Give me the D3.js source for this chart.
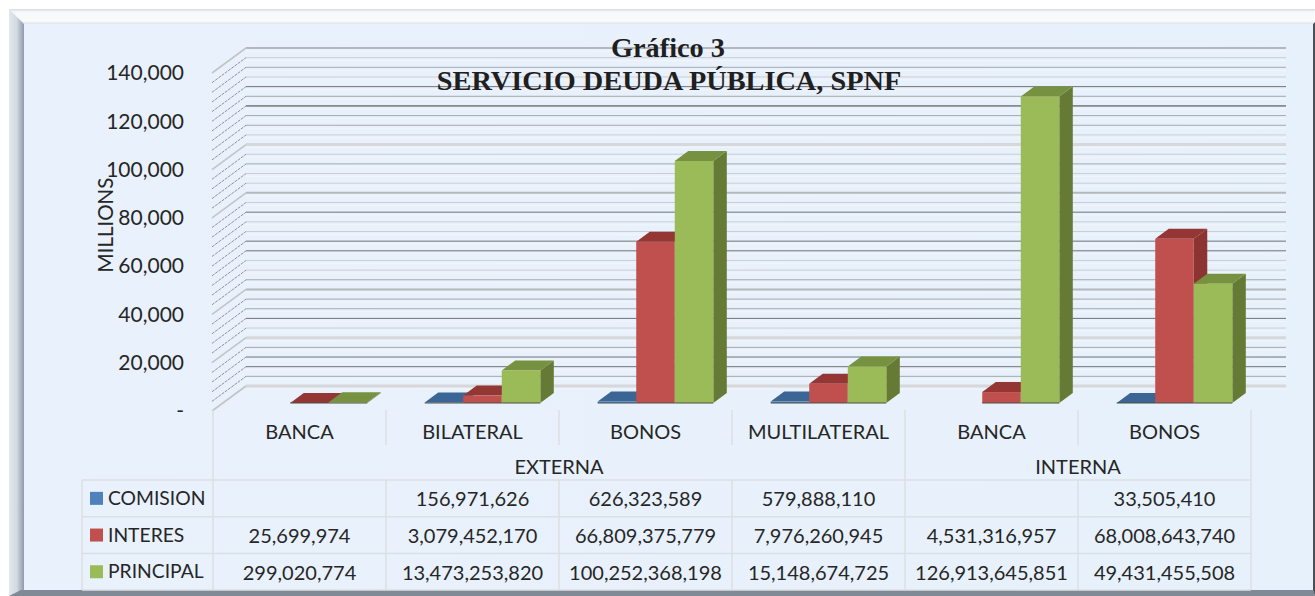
<!DOCTYPE html>
<html>
<head>
<meta charset="utf-8">
<script src="https://cdn.jsdelivr.net/npm/d3@7"></script>
<style>
  html, body { margin: 0; padding: 0; background: #fff; overflow: hidden; }
  svg { display: block; }
  text { font-family: Lato, "Open Sans", sans-serif; fill: #262626; }
</style>
</head>
<body>
<div id="chart"></div>
<script>
// Data as printed in the chart's table.
var categories = ["BANCA", "BILATERAL", "BONOS", "MULTILATERAL", "BANCA", "BONOS"];
var groups = [
  { name: "EXTERNA", from: 0, to: 3 },
  { name: "INTERNA", from: 4, to: 5 }
];
var seriesNames = ["COMISION", "INTERES", "PRINCIPAL"];
var comision = [null, 156971626, 626323589, 579888110, null, 33505410];
var interes = [25699974, 3079452170, 66809375779, 7976260945, 4531316957, 68008643740];
var principal = [299020774, 13473253820, 100252368198, 15148674725, 126913645851, 49431455508];
var seriesValues = [comision, interes, principal];
var yTicks = [0, 20000, 40000, 60000, 80000, 100000, 120000, 140000];
var titleLines = ["Gráfico 3", "SERVICIO DEUDA PÚBLICA, SPNF"];
var yLabel = "MILLIONS";

// Tone of each gridline from the top of the wall down (the scan is uneven).
var gridTones = ["t", "l", "m", "l", "d", "m", "k", "m", "m", "l", "w", "l", "m", "l", "l", "t", "l", "d",
  "l", "l", "d", "d", "l", "l", "m", "t", "m", "m", "d", "l", "w", "m", "d", "d", "m", "w"];
var toneStyle = {
  l: { color: "#c9ced4", width: 1 },
  m: { color: "#a4a8ad", width: 1 },
  d: { color: "#6f7276", width: 1 },
  k: { color: "#3a3b3d", width: 1 },
  t: { color: "#b4b8bc", width: 2 },
  w: { color: "#d6d8db", width: 3 }
};

var WIDTH = 1315, HEIGHT = 596;
var TABLE_LEFT = 82, PLOT_LEFT = 213, PLOT_RIGHT = 1251;
var WALL_DX = 33, WALL_DY = -25;   // floor depth
var GAP_DX = 10, GAP_DY = -8;      // bars stand this far back from the front
var BAR_DX = 13.5, BAR_DY = -10;   // depth of a bar

var colors = {
  COMISION: { front: "#4f81bd", top: "#3a6594", side: "#335a86" },
  INTERES: { front: "#c0504d", top: "#943634", side: "#8c3432" },
  PRINCIPAL: { front: "#9bbb59", top: "#76913f", side: "#657b35" }
};

var svg = d3.select("#chart").append("svg").attr("width", WIDTH).attr("height", HEIGHT);

var defs = svg.append("defs");
var leftGrad = defs.append("linearGradient").attr("id", "bevelLeft");
leftGrad.append("stop").attr("offset", 0).attr("stop-color", "#e4e8ec");
leftGrad.append("stop").attr("offset", 0.5).attr("stop-color", "#d3dae1");
leftGrad.append("stop").attr("offset", 1).attr("stop-color", "#8f9bab");
var topGrad = defs.append("linearGradient").attr("id", "bevelTop")
  .attr("x1", 0).attr("y1", 0).attr("x2", 0).attr("y2", 1);
topGrad.append("stop").attr("offset", 0).attr("stop-color", "#d8dadc");
topGrad.append("stop").attr("offset", 0.2).attr("stop-color", "#f6f8fa");
topGrad.append("stop").attr("offset", 0.8).attr("stop-color", "#f8fafb");
topGrad.append("stop").attr("offset", 1).attr("stop-color", "#dfe5ea");
var panelGrad = defs.append("linearGradient").attr("id", "panel");
panelGrad.append("stop").attr("offset", 0).attr("stop-color", "#e9f1fc");
panelGrad.append("stop").attr("offset", 1).attr("stop-color", "#e7f1fb");

// frame
svg.append("rect").attr("x", 24).attr("y", 24).attr("width", 1289).attr("height", 567).attr("fill", "url(#panel)");
svg.append("path").attr("d", "M9,9L1315,9L1313,24L24,24Z").attr("fill", "url(#bevelTop)");
svg.append("path").attr("d", "M9,9L24,24L24,591L9,596Z").attr("fill", "url(#bevelLeft)");
svg.append("path").attr("d", "M21,590L1313,590L1315,596L9,596Z").attr("fill", "#7f8a96");
svg.append("path").attr("d", "M1313,24L1315,22L1315,596L1313,590Z").attr("fill", "#4a5058");

// scales
var x = d3.scaleBand().domain(d3.range(categories.length)).range([PLOT_LEFT, PLOT_RIGHT]);
var y = d3.scaleLinear().domain([0, 140000]).range([411, 73]);
var xBar = d3.scaleBand().domain(seriesNames).range([0, x.bandwidth()]).paddingOuter(0.745).paddingInner(0);

// back wall gridlines and the slanted part on the side wall
var grid = svg.append("g");
gridTones.forEach(function (tone, i) {
  var v = 140000 - i * 4000;
  var s = toneStyle[tone];
  grid.append("line")
    .attr("x1", PLOT_LEFT + WALL_DX).attr("x2", PLOT_RIGHT + WALL_DX + 2)
    .attr("y1", y(v) + WALL_DY).attr("y2", y(v) + WALL_DY)
    .attr("stroke", s.color).attr("stroke-width", s.width);
  grid.append("line")
    .attr("x1", PLOT_LEFT + WALL_DX).attr("x2", PLOT_RIGHT + WALL_DX + 2)
    .attr("y1", y(v) + WALL_DY + 3).attr("y2", y(v) + WALL_DY + 3)
    .attr("stroke", "#f3f5f8").attr("stroke-width", 1);
  grid.append("line")
    .attr("x1", PLOT_LEFT - 1).attr("x2", PLOT_LEFT + WALL_DX)
    .attr("y1", y(v)).attr("y2", y(v) + WALL_DY)
    .attr("stroke", tone === "t" || tone === "w" ? "#c2c4c6" : "#8f9296")
    .attr("stroke-width", tone === "t" || tone === "w" ? 1.6 : 1)
    .attr("stroke-dasharray", tone === "t" || tone === "w" ? null : "3 1");
});

// bars, left to right so each bar covers its neighbour's side
var bars = svg.append("g");
categories.forEach(function (cat, c) {
  seriesNames.forEach(function (name, s) {
    var val = seriesValues[s][c];
    if (val === null) return;
    var col = colors[name];
    var left = x(c) + xBar(name) + GAP_DX;
    var right = left + xBar.bandwidth();
    var base = y(0) + GAP_DY;
    var top = y(val / 1e6) + GAP_DY;
    bars.append("polygon").attr("fill", col.side).attr("points", [
      [right, base], [right, top], [right + BAR_DX, top + BAR_DY], [right + BAR_DX, base + BAR_DY]
    ].join(" "));
    bars.append("polygon").attr("fill", col.top).attr("points", [
      [left, top], [right, top], [right + BAR_DX, top + BAR_DY], [left + BAR_DX, top + BAR_DY]
    ].join(" "));
    bars.append("rect").attr("fill", col.front)
      .attr("x", left).attr("y", top)
      .attr("width", xBar.bandwidth()).attr("height", base - top);
    bars.append("line").attr("stroke", "#4d4f45").attr("stroke-width", 1)
      .attr("x1", left).attr("x2", right).attr("y1", base).attr("y2", base);
  });
});

// y axis labels
var yAxis = svg.append("g").attr("transform", "translate(184,0)")
  .call(d3.axisLeft(y).tickValues(yTicks).tickSize(0).tickPadding(0)
    .tickFormat(function (d) { return d === 0 ? "-" : d3.format(",")(d); }));
yAxis.select(".domain").remove();
yAxis.selectAll("text").style("font-size", "21px").attr("font-family", null);

svg.append("text").attr("transform", "translate(113,225) rotate(-90)")
  .attr("text-anchor", "middle").style("font-size", "20.5px").text(yLabel);

// data table
var table = svg.append("g");
var ROW_TOP = 480, ROW_H = 36.7, CAT_TOP = 410, CAT_BOTTOM = 445;
var lineColor = "#dcdfe3";
function rule(x1, y1, x2, y2) {
  table.append("line").attr("x1", x1).attr("y1", y1).attr("x2", x2).attr("y2", y2)
    .attr("stroke", lineColor).attr("stroke-width", 1.5);
}
d3.range(seriesNames.length + 1).forEach(function (r) {
  rule(TABLE_LEFT, ROW_TOP + r * ROW_H, PLOT_RIGHT, ROW_TOP + r * ROW_H);
});
rule(TABLE_LEFT, ROW_TOP, TABLE_LEFT, ROW_TOP + 3 * ROW_H);
rule(PLOT_LEFT, CAT_TOP, PLOT_LEFT, ROW_TOP + 3 * ROW_H);
categories.forEach(function (cat, c) {
  var edge = x(c) + x.bandwidth();
  var groupEnd = groups.some(function (g) { return g.to === c; });
  rule(edge, CAT_TOP, edge, groupEnd ? ROW_TOP : CAT_BOTTOM);
  rule(edge, ROW_TOP, edge, ROW_TOP + 3 * ROW_H);
  table.append("text").attr("x", x(c) + x.bandwidth() / 2).attr("y", 431)
    .attr("text-anchor", "middle").attr("dominant-baseline", "central")
    .style("font-size", "20px").text(cat);
});
groups.forEach(function (g) {
  table.append("text").attr("x", (x(g.from) + x(g.to) + x.bandwidth()) / 2).attr("y", 466)
    .attr("text-anchor", "middle").attr("dominant-baseline", "central")
    .style("font-size", "20px").text(g.name);
});
seriesNames.forEach(function (name, s) {
  var cy = ROW_TOP + s * ROW_H + ROW_H / 2;
  table.append("rect").attr("x", 90).attr("y", cy - 6.5).attr("width", 13).attr("height", 13)
    .attr("fill", colors[name].front);
  table.append("text").attr("x", 108).attr("y", cy - 1).attr("dominant-baseline", "central")
    .style("font-size", "19.3px").text(name);
  seriesValues[s].forEach(function (val, c) {
    if (val === null) return;
    table.append("text").attr("x", x(c) + x.bandwidth() / 2).attr("y", cy)
      .attr("text-anchor", "middle").attr("dominant-baseline", "central")
      .style("font-size", "20px").text(d3.format(",")(val));
  });
});

// title sits over the gridlines
svg.append("text").attr("x", 668).attr("y", 57).attr("text-anchor", "middle")
  .style("font-family", '"Liberation Serif", serif').style("font-weight", "bold")
  .style("font-size", "28.3px").style("fill", "#1f1f1f").text(titleLines[0]);
svg.append("text").attr("x", 669).attr("y", 90).attr("text-anchor", "middle")
  .style("font-family", '"Liberation Serif", serif').style("font-weight", "bold")
  .style("font-size", "28.3px").style("fill", "#1f1f1f").text(titleLines[1]);
</script>
</body>
</html>
